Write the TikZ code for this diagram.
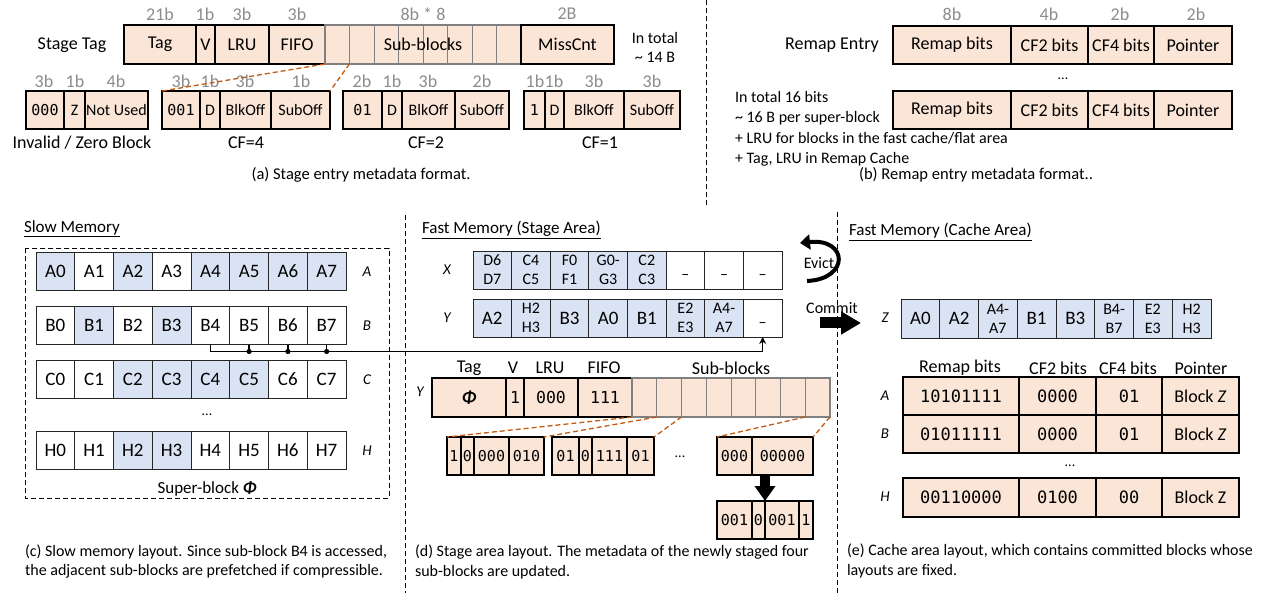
\documentclass[tikz,border=0pt]{standalone}
\usepackage{fontspec}
\setmainfont{Carlito}
\newfontfamily\monof{DejaVu Sans Mono}
\usetikzlibrary{arrows.meta}
\definecolor{peach}{HTML}{FBE5D6}
\definecolor{lblue}{HTML}{DAE3F3}
\definecolor{dorange}{HTML}{C55A11}
\definecolor{wgray}{HTML}{8C8C8C}
\definecolor{sgray}{HTML}{808080}
\newcommand\fs[2]{\fontsize{#1}{#2}\selectfont}
\newcommand\bx[7]{\node[#6,minimum width={(#4)-(#2)},minimum height={(#5)-(#3)}] (#1) at ({((#2)+(#4))/2},{((#3)+(#5))/2}) {#7};}
\begin{document}
\begin{tikzpicture}[x=1pt,y=-1pt,
  nb/.style={inner sep=0pt,outer sep=0pt,align=center},
  pk/.style={nb,draw,line width=1.4pt,fill=peach,font=\fs{18}{20}},
  pks/.style={pk,font=\fs{16}{18}},
  pkm/.style={pk,font=\monof\fs{15}{17}},
  pkmb/.style={pk,font=\monof\fs{16.5}{19}},
  pkt/.style={pk,font=\monof\fs{17}{19}},
  sb/.style={nb,draw=sgray,line width=1pt,fill=peach},
  wl/.style={nb,text=wgray,font=\fs{18}{20}},
  lbl/.style={nb,font=\fs{18}{20}},
  hd/.style={nb,font=\fs{18}{20}},
  ltxt/.style={nb,font=\fs{16}{18},anchor=base west},
  captxt/.style={nb,font=\fs{16}{18},anchor=base west},
  capsm/.style={nb,font=\fs{16.5}{18}},
  rl/.style={nb,font=\itshape\fs{15}{17}},
  bc/.style={nb,draw=black!85,line width=0.9pt,fill=lblue,font=\fs{19}{19}},
  bc2/.style={bc,font=\fs{16}{19}},
  wc/.style={bc,fill=white},
  wc2/.style={bc2,fill=white},
  sepl/.style={line width=1pt,dash pattern=on 5pt off 3pt},
  odash/.style={draw=dorange,line width=1.3pt,dash pattern=on 5pt off 3pt},
  conn/.style={line width=1.4pt},
  ttl/.style={nb,anchor=west,font=\fs{17}{19}},
]
\useasboundingbox (0,0) rectangle (1276,593);

% ================= (a) =================
\node[lbl] (stagetag) at (72,45) {Stage Tag};
\bx{tag}{124}{25}{196}{64}{pk}{Tag}
\bx{tv}{196}{25}{215}{64}{pk}{V}
\bx{tlru}{215}{25}{269}{64}{pk}{LRU}
\bx{tfifo}{269}{25}{325}{64}{pk}{FIFO}
\foreach \i in {0,...,7}{
  \pgfmathsetmacro\xa{325+24.5*\i}
  \pgfmathsetmacro\xb{\xa+24.5}
  \bx{sb\i}{\xa}{25}{\xb}{64}{sb}{}
}
\draw[sgray,line width=1.5pt] (sb0.north west) rectangle (sb7.south east);
\node[hd] (sbtxt) at (sb3.east) {Sub-blocks};
\bx{miss}{521}{25}{614}{64}{pk}{MissCnt}
\node[wl] (w21) at (160,14) {21b};
\node[wl] (w1) at (205,14) {1b};
\node[wl] (w3a) at (242,14) {3b};
\node[wl] (w3b) at (297,14) {3b};
\node[wl] (w88) at (423,14) {8b * 8};
\node[wl] (w2B) at (567,14) {2B};
\node[nb,font=\fs{16}{19}] (intot) at (655,47) {In total\\\textasciitilde{} 14 B};

\bx{iv1}{26}{91}{64}{129}{pkm}{000}
\bx{iv2}{64}{91}{85}{129}{pks}{Z}
\bx{iv3}{85}{91}{148}{129}{pks}{Not Used}
\bx{c4a}{162}{91}{200}{129}{pkm}{001}
\bx{c4b}{200}{91}{220}{129}{pks}{D}
\bx{c4c}{220}{91}{271}{129}{pks}{BlkOff}
\bx{c4d}{271}{91}{330}{129}{pks}{SubOff}
\bx{c2a}{343}{91}{382}{129}{pkm}{01}
\bx{c2b}{382}{91}{402}{129}{pks}{D}
\bx{c2c}{402}{91}{455}{129}{pks}{BlkOff}
\bx{c2d}{455}{91}{509}{129}{pks}{SubOff}
\bx{c1a}{524}{91}{545}{129}{pkm}{1}
\bx{c1b}{545}{91}{564}{129}{pks}{D}
\bx{c1c}{564}{91}{624}{129}{pks}{BlkOff}
\bx{c1d}{624}{91}{680}{129}{pks}{SubOff}
\foreach \t/\x [count=\k] in {3b/44,1b/75,4b/116,3b/181,1b/210,3b/245,1b/301,2b/362,1b/392,3b/428,2b/482,1b/535,1b/554,3b/594,3b/652}{
  \node[wl] (wb\k) at (\x,81) {\t};
}
\node[lbl] (invl) at (82,143) {Invalid / Zero Block};
\node[lbl] (cf4l) at (246,143) {CF=4};
\node[lbl] (cf2l) at (426,143) {CF=2};
\node[lbl] (cf1l) at (600,143) {CF=1};
\draw[odash] (sb0.south west) -- (c4a.north west);
\draw[odash] (sb0.south east) -- (c4d.north east);
\node[capsm] (capa) at (361,175) {(a) Stage entry metadata format.};

\draw[sepl] (706,0) -- (706,207);

% ================= (b) =================
\node[lbl] (remapentry) at (832,45) {Remap Entry};
\bx{r1a}{893}{26}{1011}{64}{pk}{Remap bits}
\bx{r1b}{1011}{26}{1088}{64}{pk}{CF2 bits}
\bx{r1c}{1088}{26}{1154}{64}{pk}{CF4 bits}
\bx{r1d}{1154}{26}{1232}{64}{pk}{Pointer}
\node[wl] (w8b) at (952,14) {8b};
\node[wl] (w4b) at (1049,14) {4b};
\node[wl] (w2ba) at (1120,14) {2b};
\node[wl] (w2bb) at (1196,14) {2b};
\node[nb,font=\fs{14}{16}] (rdots) at (1063,79) {...};
\bx{r2a}{893}{91}{1011}{129}{pk}{Remap bits}
\bx{r2b}{1011}{91}{1088}{129}{pk}{CF2 bits}
\bx{r2c}{1088}{91}{1154}{129}{pk}{CF4 bits}
\bx{r2d}{1154}{91}{1232}{129}{pk}{Pointer}
\node[ltxt] (rt1) at (735,103) {In total 16 bits};
\node[ltxt] (rt2) at (735,123) {\textasciitilde{} 16 B per super-block};
\node[ltxt] (rt3) at (735,144) {+ LRU for blocks in the fast cache/flat area};
\node[ltxt] (rt4) at (735,164) {+ Tag, LRU in Remap Cache};
\node[capsm] (capb) at (976,175) {(b) Remap entry metadata format..};

% separators bottom
\draw[sepl] (405,215) -- (405,593);
\draw[sepl] (837,212) -- (837,593);

% ================= (c) =================
\node[ttl] (slowt) at (24,229) {\underline{Slow Memory}};
\draw[sepl,line width=0.8pt] (25,248) rectangle (389,498);
\foreach \r/\ya/\fl in {A/252/{bc,wc,bc,wc,bc,bc,bc,bc},B/306/{wc,bc,wc,bc,wc,wc,wc,wc},C/360/{wc,wc,bc,bc,bc,bc,wc,wc},H/431/{wc,wc,bc,bc,wc,wc,wc,wc}}{
  \foreach \s [count=\j from 0] in \fl {
    \pgfmathsetmacro\xa{36+38.75*\j}
    \pgfmathsetmacro\xb{\xa+38.75}
    \pgfmathsetmacro\yb{\ya+38.5}
    \bx{\r\j}{\xa}{\ya}{\xb}{\yb}{\s}{\r\j}
  }
  \node[rl] (lab\r) at (367,{\ya+20}) {\r};
}
\node[nb,font=\fs{14}{16}] (cdots) at (207,415) {...};
\node[nb,font=\fs{17}{19}] (superb) at (207,489) {Super-block \textbf{\textit{Φ}}};
\node[captxt] (capc1) at (25,556) {(c) Slow memory layout. Since sub-block B4 is accessed,};
\node[captxt] (capc2) at (25,575) {the adjacent sub-blocks are prefetched if compressible.};

% ================= (d) =================
\node[ttl] (staget) at (422,230) {\underline{Fast Memory (Stage Area)}};
\bx{X0}{473}{251}{511.6}{289}{bc2}{D6\\D7}
\bx{X1}{511.6}{251}{550.3}{289}{bc2}{C4\\C5}
\bx{X2}{550.3}{251}{588.9}{289}{bc2}{F0\\F1}
\bx{X3}{588.9}{251}{627.5}{289}{bc2}{G0-\\G3}
\bx{X4}{627.5}{251}{666.1}{289}{bc2}{C2\\C3}
\bx{X5}{666.1}{251}{704.8}{289}{wc2}{\mbox{}\\–}
\bx{X6}{704.8}{251}{743.4}{289}{wc2}{\mbox{}\\–}
\bx{X7}{743.4}{251}{782}{289}{wc2}{\mbox{}\\–}
\bx{Y0}{473}{299}{511.6}{337}{bc}{A2}
\bx{Y1}{511.6}{299}{550.3}{337}{bc2}{H2\\H3}
\bx{Y2}{550.3}{299}{588.9}{337}{bc}{B3}
\bx{Y3}{588.9}{299}{627.5}{337}{bc}{A0}
\bx{Y4}{627.5}{299}{666.1}{337}{bc}{B1}
\bx{Y5}{666.1}{299}{704.8}{337}{bc2}{E2\\E3}
\bx{Y6}{704.8}{299}{743.4}{337}{bc2}{A4-\\A7}
\bx{Y7}{743.4}{299}{782}{337}{wc2}{\mbox{}\\–}
\node[rl] (labX) at (447,270) {X};
\node[rl] (labY) at (447,318) {Y};

\node[hd] (hTag) at (469,368) {Tag};
\node[hd] (hV) at (513,368) {V};
\node[hd] (hLRU) at (550,368) {LRU};
\node[hd] (hFIFO) at (604,368) {FIFO};
\node[hd] (hSub) at (731,368) {Sub-blocks};
\bx{yt}{432}{378}{506}{417}{pk}{\textbf{\textit{Φ}}}
\bx{yv}{506}{378}{524}{417}{pkmb}{1}
\bx{yl}{524}{378}{578}{417}{pkmb}{000}
\bx{yf}{578}{378}{632}{417}{pkmb}{111}
\foreach \i in {0,...,7}{
  \pgfmathsetmacro\xa{632+24.75*\i}
  \pgfmathsetmacro\xb{\xa+24.75}
  \bx{ysb\i}{\xa}{378}{\xb}{417}{sb}{}
}
\draw[sgray,line width=2pt] (ysb0.north west) rectangle (ysb7.south east);
\node[rl] (labY2) at (420,392) {Y};

\bx{e1a}{447}{437}{461}{475}{pkm}{1}
\bx{e1b}{461}{437}{474}{475}{pkm}{0}
\bx{e1c}{474}{437}{509}{475}{pkm}{000}
\bx{e1d}{509}{437}{544}{475}{pkm}{010}
\bx{e2a}{552}{437}{579}{475}{pkm}{01}
\bx{e2b}{579}{437}{592}{475}{pkm}{0}
\bx{e2c}{592}{437}{627}{475}{pkm}{111}
\bx{e2d}{627}{437}{654}{475}{pkm}{01}
\node[nb,font=\fs{14}{16}] (edots) at (680,457) {...};
\bx{e3a}{717}{437}{752}{475}{pkm}{000}
\bx{e3b}{752}{437}{813}{475}{pkm}{00000}
\bx{e4a}{717}{501}{752}{539}{pkm}{001}
\bx{e4b}{752}{501}{765}{539}{pkm}{0}
\bx{e4c}{765}{501}{799}{539}{pkm}{001}
\bx{e4d}{799}{501}{813}{539}{pkm}{1}
\draw[line width=10pt,-{Triangle[length=15pt,width=20pt]}] (e3b.south -| e4c.west) -- (e4c.north west);

\draw[odash] (ysb0.south west) -- (e1a.north west);
\draw[odash] (ysb0.south east) -- (e1d.north east);
\draw[odash] (ysb1.south east) -- (e2d.north east);
\draw[odash] (ysb7.south west) -- (e3a.north west);
\draw[odash] (ysb7.south east) -- (e3b.north east);

% connector from slow memory
\coordinate (hy) at (0,351.5);
\draw[conn,-{Stealth[length=7pt,width=7pt]}] (B4.south) -- (B4.south |- hy) -- (Y7.south |- hy) -- (Y7.south);
\foreach \k in {5,6,7}{
  \draw[conn] (B\k.south) -- (B\k.south |- hy);
  \fill (B\k.south |- hy) circle (2.6pt);
}

\node[captxt] (capd1) at (415,556) {(d) Stage area layout. The metadata of the newly staged four};
\node[captxt] (capd2) at (415,576) {sub-blocks are updated.};

% ================= (e) =================
\node[ttl] (cachet) at (849,232) {\underline{Fast Memory (Cache Area)}};
\coordinate (ev1) at (807,281);
\coordinate (ev2) at (800,243);
\draw[line width=4pt,-{Triangle[length=10pt,width=15pt]}] (ev1) .. controls (850,279) and (848,238) .. (ev2);
\node[nb,font=\fs{16}{18}] (evict) at (819,263) {Evict};
\node[nb,font=\fs{16}{18}] (commit) at (832,308) {Commit};
\coordinate (cm1) at (820,323);
\coordinate (cm2) at (861,323);
\draw[line width=11pt,-{Triangle[length=20pt,width=22pt]}] (cm1) -- (cm2);

\bx{Z0}{901}{299}{939.75}{338}{bc}{A0}
\bx{Z1}{939.75}{299}{978.5}{338}{bc}{A2}
\bx{Z2}{978.5}{299}{1017.25}{338}{bc2}{A4-\\A7}
\bx{Z3}{1017.25}{299}{1056}{338}{bc}{B1}
\bx{Z4}{1056}{299}{1094.75}{338}{bc}{B3}
\bx{Z5}{1094.75}{299}{1133.5}{338}{bc2}{B4-\\B7}
\bx{Z6}{1133.5}{299}{1172.25}{338}{bc2}{E2\\E3}
\bx{Z7}{1172.25}{299}{1211}{338}{bc2}{H2\\H3}
\node[rl] (labZ) at (885,318) {Z};

\node[hd] (hRemap) at (960,368) {Remap bits};
\node[hd] (hCF2) at (1058,368) {CF2 bits};
\node[hd] (hCF4) at (1128,368) {CF4 bits};
\node[hd] (hPtr) at (1201,368) {Pointer};
\bx{tA1}{903}{377}{1019}{415}{pkt}{10101111}
\bx{tA2}{1019}{377}{1096}{415}{pkt}{0000}
\bx{tA3}{1096}{377}{1162}{415}{pkt}{01}
\bx{tA4}{1162}{377}{1239}{415}{pk}{Block \textit{Z}}
\bx{tB1}{903}{415}{1019}{453}{pkt}{01011111}
\bx{tB2}{1019}{415}{1096}{453}{pkt}{0000}
\bx{tB3}{1096}{415}{1162}{453}{pkt}{01}
\bx{tB4}{1162}{415}{1239}{453}{pk}{Block \textit{Z}}
\node[nb,font=\fs{14}{16}] (tdots) at (1070,466) {...};
\bx{tH1}{903}{478}{1019}{517}{pkt}{00110000}
\bx{tH2}{1019}{478}{1096}{517}{pkt}{0100}
\bx{tH3}{1096}{478}{1162}{517}{pkt}{00}
\bx{tH4}{1162}{478}{1239}{517}{pk}{Block Z}
\node[rl] (labtA) at (885,396) {A};
\node[rl] (labtB) at (885,434) {B};
\node[rl] (labtH) at (885,497) {H};

\node[captxt] (cape1) at (847,555) {(e) Cache area layout, which contains committed blocks whose};
\node[captxt] (cape2) at (847,575) {layouts are fixed.};
\end{tikzpicture}
\end{document}
